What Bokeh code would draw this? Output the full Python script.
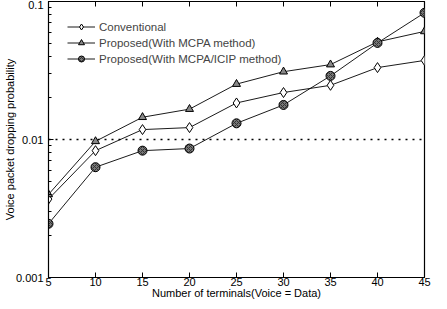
from bokeh.plotting import figure
from bokeh.models import (FixedTicker, LinearAxis, Legend, LegendItem, Span, Range1d)
from bokeh.embed import file_html
from bokeh.resources import INLINE

terminals = [5, 10, 15, 20, 25, 30, 35, 40, 45]
conventional = [0.0037, 0.0083, 0.0118, 0.0122, 0.0184, 0.0219, 0.0247, 0.0332, 0.0374]
mcpa = [0.0040, 0.0097, 0.0145, 0.0166, 0.0252, 0.0310, 0.0349, 0.0510, 0.0607]
mcpa_icip = [0.00245, 0.0063, 0.0083, 0.0086, 0.0131, 0.0178, 0.0289, 0.0501, 0.0828]
x_ticks = [5, 10, 15, 20, 25, 30, 35, 40, 45]
y_ticks = [0.001, 0.01, 0.1]
y_tick_labels = {0.001: "0.001", 0.01: "0.01", 0.1: "0.1"}
y_minor = [m * d for d in (0.001, 0.01) for m in range(2, 10)]
names = ["Conventional", "Proposed(With MCPA method)", "Proposed(With MCPA/ICIP method)"]
threshold = 0.01

FONT = "Liberation Sans"

p = figure(width=431, height=301, y_axis_type="log", output_backend="svg",
           toolbar_location=None, x_range=Range1d(5, 45), y_range=Range1d(0.001, 0.1),
           min_border_left=41, min_border_right=7, min_border_top=1, min_border_bottom=20)
p.xgrid.visible = False
p.ygrid.visible = False
p.outline_line_color = "black"
p.outline_line_width = 1.2
p.background_fill_color = "white"
p.border_fill_color = "white"

def style_axis(ax, labels=True):
    ax.major_tick_in = 5
    ax.major_tick_out = 0
    ax.minor_tick_in = 3
    ax.minor_tick_out = 0
    ax.axis_line_color = "black"
    ax.major_tick_line_color = "black"
    ax.minor_tick_line_color = "black"
    ax.major_label_text_font = FONT
    ax.major_label_text_font_size = "11px"
    ax.major_label_text_color = "black"
    ax.axis_label_text_font = FONT
    ax.axis_label_text_font_size = "11px"
    ax.axis_label_text_font_style = "normal"
    ax.axis_label_text_color = "black"
    if not labels:
        ax.major_label_text_alpha = 0
        ax.major_label_text_font_size = "0px"
        ax.major_label_standoff = 0

xa = p.xaxis[0]
xa.ticker = FixedTicker(ticks=x_ticks)
xa.axis_label = "Number of terminals(Voice = Data)"
style_axis(xa)
xa.major_label_standoff = 0
xa.axis_label_standoff = -2

ya = p.yaxis[0]
ya.ticker = FixedTicker(ticks=y_ticks, minor_ticks=y_minor)
ya.major_label_overrides = y_tick_labels
ya.axis_label = "Voice packet dropping probability"
style_axis(ya)
ya.major_label_standoff = 5
ya.axis_label_standoff = -3

top = LinearAxis(ticker=FixedTicker(ticks=x_ticks))
style_axis(top, labels=False)
p.add_layout(top, "above")

p.add_layout(Span(location=threshold, dimension="width", line_color="black",
                  line_dash="2 5", line_width=1.5))

items = []
l1 = p.line(terminals, conventional, line_color="black", line_width=0.9)
s1 = p.scatter(terminals, conventional, marker="diamond", size=10, fill_color="white", line_color="black")
items.append(LegendItem(label=names[0], renderers=[l1, s1]))
l2 = p.line(terminals, mcpa, line_color="black", line_width=0.9)
s2 = p.scatter(terminals, mcpa, marker="triangle", size=8, fill_color="#888888", line_color="black")
items.append(LegendItem(label=names[1], renderers=[l2, s2]))
l3 = p.line(terminals, mcpa_icip, line_color="black", line_width=0.9)
s3 = p.scatter(terminals, mcpa_icip, marker="circle", size=9, fill_color="#777777", line_color="black",
               hatch_pattern="x", hatch_color="#333333", hatch_scale=4)
items.append(LegendItem(label=names[2], renderers=[l3, s3]))

legend = Legend(items=items, location=(17, 209), border_line_alpha=0,
                background_fill_alpha=0, label_text_font=FONT, label_text_font_size="11.5px",
                glyph_width=28, glyph_height=15, spacing=1, padding=2, margin=0,
                label_standoff=4, label_height=15)
p.add_layout(legend)

open("out.html", "w").write(file_html(p, INLINE))
